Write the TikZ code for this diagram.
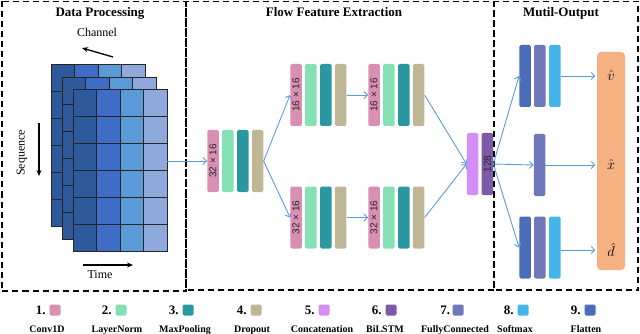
\documentclass[tikz,border=0pt]{standalone}
\usepackage{fontspec}
\setmainfont{Liberation Serif}
\setsansfont{Liberation Sans}
\usepackage{graphicx}
\usetikzlibrary{positioning,arrows.meta}

\definecolor{convc}{HTML}{D88FB2}
\definecolor{normc}{HTML}{86E0B6}
\definecolor{poolc}{HTML}{2A97A1}
\definecolor{dropc}{HTML}{BEB695}
\definecolor{catc}{HTML}{D58EF7}
\definecolor{lstmc}{HTML}{7E59A8}
\definecolor{fcc}{HTML}{6F78BA}
\definecolor{softc}{HTML}{43B5E8}
\definecolor{flatc}{HTML}{4A6CB9}
\definecolor{outc}{HTML}{F5B182}
\definecolor{linkc}{HTML}{5B9BD8}
\definecolor{cellA}{HTML}{2E5A9C}
\definecolor{cellB}{HTML}{3F6DC6}
\definecolor{cellC}{HTML}{5A9AD6}
\definecolor{cellD}{HTML}{8FA9DC}

\begin{document}
\begin{tikzpicture}[
    x=1pt, y=1pt,
    node distance=3pt,
    bar/.style={rectangle, rounded corners=1.5pt, inner sep=0pt,
                minimum width=11.5pt, minimum height=62pt,
                font=\sffamily\fontsize{10}{11}\selectfont, text=black!85},
    conv/.style={bar, fill=convc},
    norm/.style={bar, fill=normc},
    pool/.style={bar, fill=poolc},
    drop/.style={bar, fill=dropc},
    concat/.style={bar, fill=catc},
    lstm/.style={bar, fill=lstmc},
    fc/.style={bar, fill=fcc},
    soft/.style={bar, fill=softc},
    flat/.style={bar, fill=flatc},
    arrow/.style={-{Straight Barb[length=3.5pt,width=7pt]}, linkc, line width=0.9pt},
    axis/.style={-{Stealth[length=6pt,width=5pt]}, line width=1.3pt},
    axislabel/.style={font=\fontsize{12}{14}\selectfont, inner sep=0pt},
    title/.style={font=\bfseries\fontsize{13}{15}\selectfont, inner sep=0pt},
    panel/.style={dash pattern=on 6pt off 4pt, line width=1.3pt},
    gridline/.style={draw=black!85, line width=0.6pt},
    outlabel/.style={font=\fontsize{15}{17}\selectfont, inner sep=0pt},
    key/.style={rectangle, rounded corners=1.5pt, minimum size=11pt, inner sep=0pt},
    num/.style={font=\bfseries\fontsize{13}{15}\selectfont, inner sep=0pt},
    keylabel/.style={font=\bfseries\fontsize{10}{12}\selectfont, inner sep=0pt, anchor=base}
]
\useasboundingbox (0,0) rectangle (640,-334);

% Panels
\draw[panel] (2,-1.5) rectangle (186,-291);
\draw[panel] (186,-1.5) rectangle (494,-290);
\draw[panel] (494,-1.5) rectangle (638,-290);

\node[title] (t1) at (100,-13) {Data Processing};
\node[title] (t2) at (334,-12) {Flow Feature Extraction};
\node[title] (t3) at (561,-13) {Mutil-Output};

% Stacked input windows
\foreach \lx/\ly in {51/64, 62/77, 73/89} {
  \begin{scope}[shift={(\lx,-\ly)}]
    \fill[cellA] (0,0) rectangle (23.5,-162);
    \fill[cellB] (23.5,0) rectangle (47,-162);
    \fill[cellC] (47,0) rectangle (70.5,-162);
    \fill[cellD] (70.5,0) rectangle (94,-162);
    \draw[gridline, xstep=23.5pt, ystep=27pt] (0,-162) grid (94,0);
    \draw[gridline] (0,0) rectangle (94,-162);
  \end{scope}
}
\node[minimum width=94pt, minimum height=162pt, inner sep=0pt] (front) at (120,-170) {};

% Axes of the input
\coordinate (ch0) at (113,-57);
\coordinate (ch1) at (82,-48);
\draw[axis] (ch0) -- (ch1);
\node[axislabel] (chl) at (97,-32) {Channel};
\coordinate (sq0) at (39,-123);
\coordinate (sq1) at (39,-176);
\draw[axis] (sq0) -- (sq1);
\node[axislabel, rotate=90] (sql) at (22,-153) {Sequence};
\coordinate (tm0) at (83,-265);
\coordinate (tm1) at (133,-265);
\draw[axis] (tm0) -- (tm1);
\node[axislabel] (tml) at (100,-275) {Time};

% First block
\node[conv] (A1) at (213,-161) {\rotatebox{90}{32 × 16}};
\node[norm, right=of A1] (A2) {};
\node[pool, right=of A2] (A3) {};
\node[drop, right=of A3] (A4) {};

% Upper branch
\node[conv] (B1) at (296,-95) {\rotatebox{90}{16 × 16}};
\node[norm, right=of B1] (B2) {};
\node[pool, right=of B2] (B3) {};
\node[drop, right=of B3] (B4) {};
\node[conv] (C1) at (374,-95) {\rotatebox{90}{16 × 16}};
\node[norm, right=of C1] (C2) {};
\node[pool, right=of C2] (C3) {};
\node[drop, right=of C3] (C4) {};

% Lower branch
\node[conv] (D1) at (296,-217.5) {\rotatebox{90}{32 × 16}};
\node[norm, right=of D1] (D2) {};
\node[pool, right=of D2] (D3) {};
\node[drop, right=of D3] (D4) {};
\node[conv] (E1) at (374,-217.5) {\rotatebox{90}{32 × 16}};
\node[norm, right=of E1] (E2) {};
\node[pool, right=of E2] (E3) {};
\node[drop, right=of E3] (E4) {};

% Merge
\node[concat] (F) at (472.5,-164) {};
\node[lstm, right=of F] (G) {\rotatebox{90}{128}};

% Output heads
\node[flat] (H1) at (525,-76) {};
\node[fc, right=of H1] (H2) {};
\node[soft, right=of H2] (H3) {};
\node[fc] (I) at (539.5,-165) {};
\node[flat] (J1) at (525,-247.5) {};
\node[fc, right=of J1] (J2) {};
\node[soft, right=of J2] (J3) {};

\node[rectangle, rounded corners=4pt, fill=outc, minimum width=28pt,
      minimum height=218pt] (Out) at (611,-161) {};
\node[outlabel] (v) at (611,-76) {$\hat{v}$};
\node[outlabel] (x) at (611,-165) {$\hat{x}$};
\node[outlabel] (d) at (611,-250) {$\hat{d}$};

% Arrows
\draw[arrow] (front.east |- A1.west) -- (A1.west);
\draw[arrow] (A4.east) -- (B1.west);
\draw[arrow] (A4.east) -- (D1.west);
\draw[arrow] (B4.east) -- (C1.west);
\draw[arrow] (D4.east) -- (E1.west);
\draw[arrow] (C4.east) -- (F.west);
\draw[arrow] (E4.east) -- (F.west);
\draw[arrow] (G.east) -- (H1.west);
\draw[arrow] (G.east) -- (I.west);
\draw[arrow] (G.east) -- (J1.west);
\draw[arrow, shorten >=1.5pt] (H3.east |- v) -- (Out.west |- v);
\draw[arrow, shorten >=1.5pt] (I.east |- x) -- (Out.west |- x);
\draw[arrow, shorten >=1.5pt] (J3.east |- d) -- (Out.west |- d);

% Legend
\node[key, fill=convc] (k1) at (55,-310) {};   \node[num, left=3.5pt of k1] (n1) {1.};
\node[key, fill=normc] (k2) at (121,-310) {};  \node[num, left=3.5pt of k2] (n2) {2.};
\node[key, fill=poolc] (k3) at (188,-310) {};  \node[num, left=3.5pt of k3] (n3) {3.};
\node[key, fill=dropc] (k4) at (256,-310) {};  \node[num, left=3.5pt of k4] (n4) {4.};
\node[key, fill=catc] (k5) at (324,-310) {};   \node[num, left=3.5pt of k5] (n5) {5.};
\node[key, fill=lstmc] (k6) at (391,-310) {};  \node[num, left=3.5pt of k6] (n6) {6.};
\node[key, fill=fcc] (k7) at (458,-310) {};    \node[num, left=2pt of k7] (n7) {7.};
\node[key, fill=softc] (k8) at (523,-310) {};  \node[num, left=3.5pt of k8] (n8) {8.};
\node[key, fill=flatc] (k9) at (590,-310) {};  \node[num, left=3.5pt of k9] (n9) {9.};

\node[keylabel] (l1) at (47,-332) {Conv1D};
\node[keylabel] (l2) at (117,-332) {LayerNorm};
\node[keylabel] (l3) at (185,-332) {MaxPooling};
\node[keylabel] (l4) at (252,-332) {Dropout};
\node[keylabel] (l5) at (322,-332) {Concatenation};
\node[keylabel] (l6) at (385,-332) {BiLSTM};
\node[keylabel] (l7) at (455,-332) {FullyConnected};
\node[keylabel] (l8) at (515,-332) {Softmax};
\node[keylabel] (l9) at (586,-332) {Flatten};

\end{tikzpicture}
\end{document}
